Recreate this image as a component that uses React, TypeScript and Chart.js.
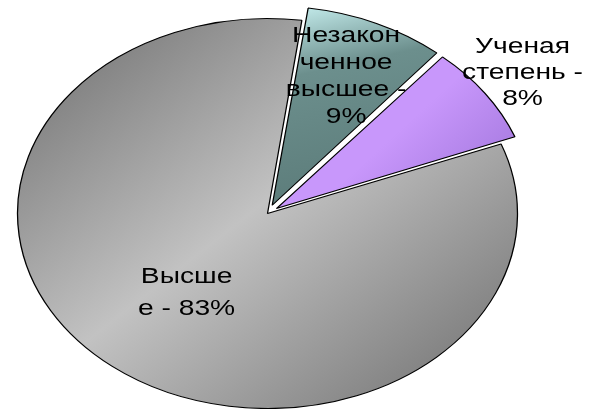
import React, { useEffect, useRef } from "react";
import { Chart, registerables } from "chart.js";

Chart.register(...registerables);

// ---- data ----
const CATEGORIES = ["Незаконченное высшее", "Ученая степень", "Высшее"];
const VALUES = [9, 8, 83];
const LABEL_LINES = [
  ["Незакон", "ченное", "высшее -", "9%"],
  ["Ученая", "степень -", "8%"],
  ["Высше", "е - 83%"],
];

// ---- style / layout ----
const STRETCH_X = 1.282; // the pie is drawn as a horizontally stretched circle
const RADIUS = 195;
const START_ANGLE = 7.9;
const EXPLODE = [36, 34, 0];
const LABEL_RADIUS = [0.77, 1.25, 0.52];
const LABEL_LINE_HEIGHT = [27, 26, 32];
const FONT = '22px "Liberation Sans", Arial, sans-serif';

type Stop = [number, string];
const GRADIENTS: { from: [number, number]; to: [number, number]; stops: Stop[] }[] = [
  { from: [300, 10], to: [370, 200], stops: [[0, "#c8f0f0"], [0.35, "#6c8f8d"], [1, "#5c7c7a"]] },
  { from: [440, 90], to: [515, 140], stops: [[0, "#c897fb"], [1, "#ab7ee4"]] },
  { from: [50, 40], to: [500, 390], stops: [[0, "#767676"], [0.47, "#c2c2c2"], [1, "#737373"]] },
];

function gradientFor(chart: any, i: number | undefined) {
  if (i === undefined || !chart.chartArea) return "#aaaaaa";
  const { ctx, chartArea } = chart;
  const cx = (chartArea.left + chartArea.right) / 2;
  const toC = (x: number) => cx + (x - cx) / STRETCH_X;
  const g = GRADIENTS[i];
  const grad = ctx.createLinearGradient(toC(g.from[0]), g.from[1], toC(g.to[0]), g.to[1]);
  g.stops.forEach(([o, c]) => grad.addColorStop(o, c));
  return grad;
}

const stretchPlugin = {
  id: "stretch",
  beforeDraw(chart: any) {
    const { ctx, chartArea } = chart;
    const cx = (chartArea.left + chartArea.right) / 2;
    ctx.save();
    ctx.translate(cx, 0);
    ctx.scale(STRETCH_X, 1);
    ctx.translate(-cx, 0);
  },
  afterDraw(chart: any) {
    chart.ctx.restore();
  },
};

const labelPlugin = {
  id: "sliceLabels",
  afterDatasetsDraw(chart: any) {
    const ctx = chart.ctx;
    const meta = chart.getDatasetMeta(0);
    ctx.save();
    ctx.font = FONT;
    ctx.fillStyle = "#000";
    ctx.textAlign = "center";
    ctx.textBaseline = "middle";
    meta.data.forEach((arc: any, i: number) => {
      const { x, y, startAngle, endAngle, outerRadius } = arc.getProps(
        ["x", "y", "startAngle", "endAngle", "outerRadius"],
        true
      );
      const mid = (startAngle + endAngle) / 2;
      const r = outerRadius * LABEL_RADIUS[i];
      const lx = x + Math.cos(mid) * r;
      const ly = y + Math.sin(mid) * r;
      const lines = LABEL_LINES[i];
      const lh = LABEL_LINE_HEIGHT[i];
      lines.forEach((t, j) => ctx.fillText(t, lx, ly + (j - (lines.length - 1) / 2) * lh));
    });
    ctx.restore();
  },
};

export default function App() {
  const ref = useRef<HTMLCanvasElement>(null);
  useEffect(() => {
    const chart = new Chart(ref.current as HTMLCanvasElement, {
      type: "pie",
      data: {
        labels: CATEGORIES,
        datasets: [
          {
            data: VALUES,
            backgroundColor: (c: any) => gradientFor(c.chart, c.dataIndex),
            borderColor: "#000000",
            borderWidth: 1,
            offset: EXPLODE,
            clip: false,
          } as any,
        ],
      },
      options: {
        responsive: false,
        animation: false,
        rotation: START_ANGLE,
        radius: RADIUS,
        events: [],
        layout: { padding: { left: 0, right: 54, top: 18, bottom: 0 } },
        plugins: { legend: { display: false }, tooltip: { enabled: false } },
      } as any,
      plugins: [stretchPlugin, labelPlugin],
    });
    return () => chart.destroy();
  }, []);
  return (
    <div style={{ position: "absolute", left: 0, top: 0, width: 589, height: 409, background: "#fff" }}>
      <canvas ref={ref} width={589} height={409} style={{ display: "block" }} />
    </div>
  );
}
